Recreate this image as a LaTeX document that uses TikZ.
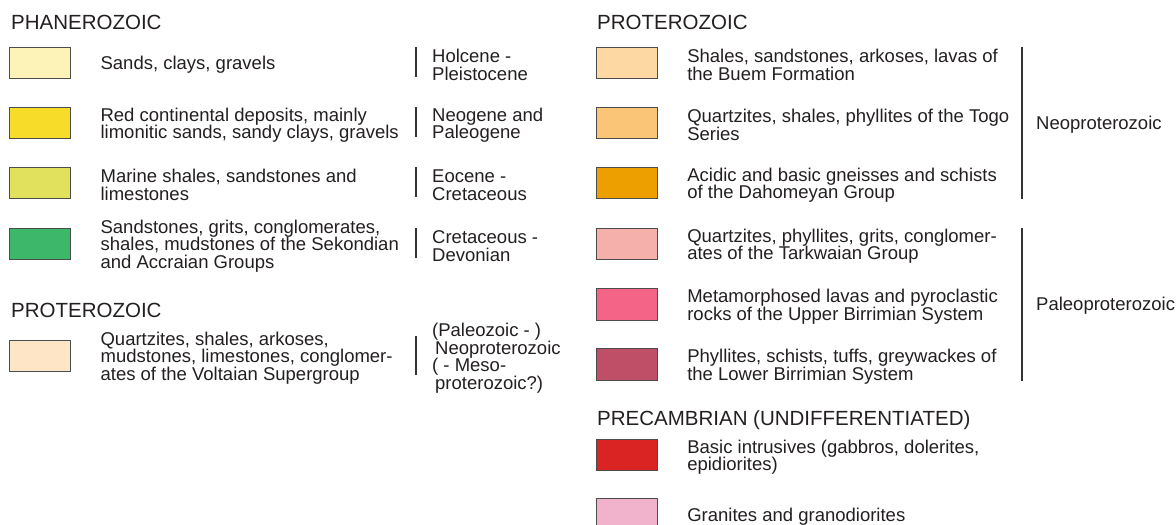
\documentclass[tikz,border=0pt]{standalone}
\usepackage{fontspec}
\setmainfont{Liberation Sans}
\usetikzlibrary{positioning}

\definecolor{inkgray}{HTML}{231F20}
\definecolor{sands}{HTML}{FDF2B8}
\definecolor{redcont}{HTML}{F7DC2A}
\definecolor{marine}{HTML}{E1E15E}
\definecolor{sekondi}{HTML}{3DB86A}
\definecolor{voltaian}{HTML}{FEE5C6}
\definecolor{buem}{HTML}{FDD8A3}
\definecolor{togo}{HTML}{FBC577}
\definecolor{dahomey}{HTML}{EE9F00}
\definecolor{tarkwa}{HTML}{F6B0AB}
\definecolor{upbirrim}{HTML}{F46487}
\definecolor{lowbirrim}{HTML}{BF4F66}
\definecolor{basicint}{HTML}{DA2423}
\definecolor{granite}{HTML}{F1B3CB}

\tikzset{
  swatch/.style={draw=black!70, line width=0.8pt, minimum width=61pt,
    minimum height=31.5pt, inner sep=0pt},
  desc/.style={anchor=west, align=left, inner sep=0pt, text=inkgray,
    yshift=-2pt, font=\fontsize{18.5}{17.5}\selectfont},
  era/.style={anchor=west, inner sep=0pt, text=inkgray,
    font=\fontsize{20.5}{22}\selectfont},
  agebar/.style={line width=1.1pt, draw=black!80},
}

\begin{document}
\begin{tikzpicture}[x=1pt, y=-1pt]
        \useasboundingbox (0,0) rectangle (1176,525);

        \coordinate (lbar) at (416,0);
        \coordinate (rbar) at (1022,0);

        % left column
        \node[era] (phan) at (11,22) {PHANEROZOIC};
        \node[era] (protl) at (11,310) {PROTEROZOIC};

                \foreach \i/\y/\c/\t in {
                    1/63/sands/{Sands, clays, gravels},
                    2/123/redcont/{Red continental deposits, mainly\\limonitic sands, sandy clays, gravels},
                    3/183/marine/{Marine shales, sandstones and\\limestones},
                    4/244/sekondi/{Sandstones, grits, conglomerates,\\shales, mudstones of the Sekondian\\and Accraian Groups},
                    5/356/voltaian/{Quartzites, shales, arkoses,\\mudstones, limestones, conglomer-\\ates of the Voltaian Supergroup}} {
                    \node[swatch, fill=\c] (l\i) at (40,\y) {};
                    \node[desc, right=29.5pt of l\i] (ld\i) {\t};
                }

        \node[desc] (la1) at (432,63) {Holcene -\\Pleistocene};
        \node[desc] (la2) at (432,123) {Neogene and\\Paleogene};
        \node[desc] (la3) at (432,183) {Eocene -\\Cretaceous};
        \node[desc] (la4) at (432,244) {Cretaceous -\\Devonian};
        \node[desc] (la5) at (432,356) {(Paleozoic - )\\\hspace{3pt}Neoproterozoic\\( - Meso-\\\hspace{3pt}proterozoic?)};

                \foreach \i in {1,2,3,4} {
                    \draw[agebar] (lbar |- l\i.north) -- ([yshift=2pt]lbar |- l\i.south);
                }
        \draw[agebar] ([yshift=4pt]lbar |- l5.north) -- ([yshift=-3pt]lbar |- l5.south);

        % right column
        \node[era] (protr) at (597,22) {PROTEROZOIC};
        \node[era] (precam) at (597,420) {PRECAMBRIAN (UNDIFFERENTIATED)};

                \foreach \i/\y/\c/\t in {
                    1/63/buem/{Shales, sandstones, arkoses, lavas of\\the Buem Formation},
                    2/123/togo/{Quartzites, shales, phyllites of the Togo\\Series},
                    3/183/dahomey/{Acidic and basic gneisses and schists\\of the Dahomeyan Group},
                    4/244/tarkwa/{Quartzites, phyllites, grits, conglomer-\\ates of the Tarkwaian Group},
                    5/304.5/upbirrim/{Metamorphosed lavas and pyroclastic\\rocks of the Upper Birrimian System},
                    6/364.5/lowbirrim/{Phyllites, schists, tuffs, greywackes of\\the Lower Birrimian System},
                    7/455/basicint/{Basic intrusives (gabbros, dolerites,\\epidiorites)},
                    8/514.5/granite/{Granites and granodiorites}} {
                    \node[swatch, fill=\c] (r\i) at (626.7,\y) {};
                    \node[desc, right=29.5pt of r\i] (rd\i) {\t};
                }

        \draw[agebar] (rbar |- r1.north) -- (rbar |- r3.south);
        \draw[agebar] (rbar |- r4.north) -- (rbar |- r6.south);

        \node[desc] (neo) at (1036,123) {Neoproterozoic};
        \node[desc] (paleo) at (1036,304) {Paleoproterozoic};

            \end{tikzpicture}
\end{document}
